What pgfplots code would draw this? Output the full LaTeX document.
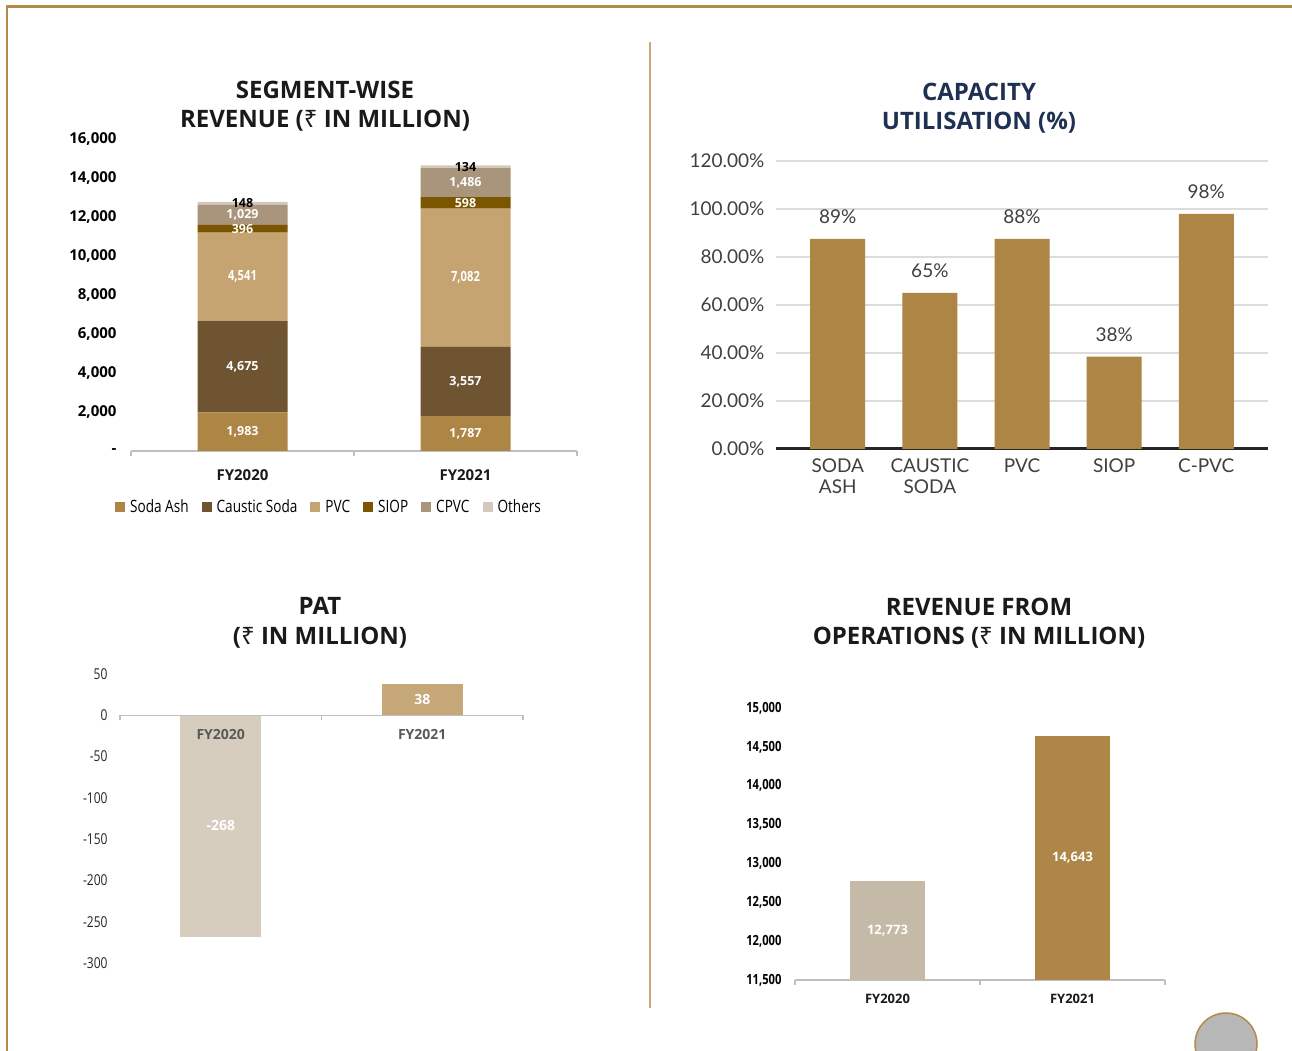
\documentclass[border=0pt]{standalone}
\usepackage{fontspec}
\usepackage{pgfplots}
\pgfplotsset{compat=1.18}
\setmainfont{Open Sans}
\newfontfamily\condfont[FakeStretch=0.8]{Open Sans}
\newfontfamily\rup{Noto Sans}
\newfontfamily\capfont{Lato}
\definecolor{soda}{RGB}{173,134,69}
\definecolor{caustic}{RGB}{111,84,50}
\definecolor{pvc}{RGB}{197,164,114}
\definecolor{siop}{RGB}{123,85,0}
\definecolor{cpvc}{RGB}{168,149,123}
\definecolor{others}{RGB}{211,201,186}
\definecolor{capgold}{RGB}{173,133,68}
\definecolor{patA}{RGB}{214,205,191}
\definecolor{patB}{RGB}{198,168,120}
\definecolor{revA}{RGB}{197,185,167}
\definecolor{revB}{RGB}{174,135,72}
\definecolor{bordergold}{RGB}{179,138,75}
\definecolor{divider}{RGB}{200,170,125}
\definecolor{axisgray}{RGB}{191,191,191}
\definecolor{gridgray}{RGB}{220,220,220}
\definecolor{navy}{RGB}{31,49,82}
\definecolor{titleblack}{RGB}{26,26,26}
\definecolor{circgray}{RGB}{183,183,183}
\pgfplotsset{
  leg/.style={legend image code/.code={\fill[##1] (0pt,-5pt) rectangle (10pt,5pt);}},
}
\begin{document}
\begin{tikzpicture}
\useasboundingbox (0,0) rectangle (1292pt,1051pt);
\fill[white] (0,0) rectangle (1292pt,1051pt);
% decorations
\draw[bordergold, line width=2.5pt] (7.2pt,0pt) -- (7.2pt,1044.5pt) -- (1292pt,1044.5pt);
\draw[divider, line width=1.5pt] (650pt,43pt) -- (650pt,1009pt);
\begin{scope}
\clip (0,0) rectangle (1292pt,1051pt);
\draw[fill=circgray, draw=bordergold, line width=1.5pt] (1226pt,7pt) circle (31pt);
\end{scope}
% titles
\tikzset{ttl/.style={anchor=base, font=\fontsize{24}{29}\selectfont\bfseries, text=titleblack, inner sep=0pt}}
\node[ttl] at (325pt,952pt) {SEGMENT-WISE};
\node[ttl] at (325pt,923pt) {REVENUE ({\rup ₹} IN MILLION)};
\node[ttl, text=navy] at (979pt,950pt) {CAPACITY};
\node[ttl, text=navy] at (979pt,921pt) {UTILISATION (\%)};
\node[ttl] at (320pt,436pt) {PAT};
\node[ttl] at (320pt,406pt) {({\rup ₹} IN MILLION)};
\node[ttl] at (979pt,435pt) {REVENUE FROM};
\node[ttl] at (979pt,406pt) {OPERATIONS ({\rup ₹} IN MILLION)};

% ---------- Panel 1: segment-wise revenue ----------
\begin{axis}[
  at={(131pt,600pt)}, anchor=south west, scale only axis,
  width=446pt, height=312pt,
  ybar stacked, bar width=90pt,
  xmin=-0.5, xmax=1.5, ymin=0, ymax=16000,
  scaled y ticks=false,
  xtick={0,1}, xticklabels={FY2020,FY2021},
  extra x ticks={-0.5,0.5,1.5}, extra x tick labels={},
  extra x tick style={major tick length=5pt, tick align=outside, tick style={draw=axisgray, line width=1.2pt}},
  major tick length=0pt, tick pos=left,
  ytick={0,2000,4000,6000,8000,10000,12000,14000,16000},
  yticklabels={{-},{2,000},{4,000},{6,000},{8,000},{10,000},{12,000},{14,000},{16,000}},
  yticklabel style={font=\fontsize{15}{17}\selectfont\bfseries, text=black, xshift=-11pt},
  xticklabel style={font=\fontsize{15}{17}\selectfont\bfseries, text=titleblack, yshift=-15pt},
  axis x line*=bottom, axis y line*=left,
  y axis line style={draw=none},
  x axis line style={draw=axisgray, line width=1.5pt},
  nodes near coords, point meta=explicit symbolic,
  every node near coord/.append style={anchor=center,
     font=\fontsize{12.5}{14}\selectfont\bfseries, text=white, inner sep=0pt},
  legend style={at={(0.444,-0.18)}, anchor=center, draw=none, legend columns=6,
     font=\fontsize{17}{20}\condfont, inner sep=0pt,
     /tikz/every odd column/.append style={column sep=3pt},
     /tikz/every even column/.append style={column sep=11pt}},
]
\addplot[fill=soda, draw=none, leg] coordinates {(0,1983)[1,983] (1,1787)[1,787]};
\addplot[fill=caustic, draw=none, leg] coordinates {(0,4675)[4,675] (1,3557)[3,557]};
\addplot[fill=pvc, draw=none, leg, every node near coord/.append style={font=\fontsize{14}{16}\condfont\bfseries}] coordinates {(0,4541)[4,541] (1,7082)[7,082]};
\addplot[fill=siop, draw=none, leg] coordinates {(0,396)[396] (1,598)[598]};
\addplot[fill=cpvc, draw=none, leg] coordinates {(0,1029)[1,029] (1,1486)[1,486]};
\addplot[fill=others, draw=none, leg, every node near coord/.append style={text=black}] coordinates {(0,148)[148] (1,134)[134]};
\legend{Soda Ash, Caustic Soda, PVC, SIOP, CPVC, Others}
\end{axis}

% ---------- Panel 2: capacity utilisation ----------
\begin{axis}[
  at={(776pt,602pt)}, anchor=south west, scale only axis,
  width=492pt, height=288pt,
  ybar, bar width=55pt,
  xmin=-0.67, xmax=4.67, ymin=0, ymax=1.2,
  xtick={0,1,2,3,4},
  xticklabels={{SODA\\ASH},{CAUSTIC\\SODA},PVC,SIOP,C-PVC},
  ytick={0,0.2,0.4,0.6,0.8,1.0,1.2},
  yticklabels={0.00\%,20.00\%,40.00\%,60.00\%,80.00\%,100.00\%,120.00\%},
  yticklabel style={font=\fontsize{19}{21}\capfont, text=black!75, xshift=-8pt},
  xticklabel style={font=\fontsize{19}{21}\capfont, text=black!75, align=center, yshift=-6pt},
  major tick length=0pt, tick pos=left,
  ymajorgrids, major grid style={draw=gridgray, line width=2pt},
  axis x line*=bottom, axis y line*=left,
  y axis line style={draw=none},
  x axis line style={draw=black!85, line width=3pt},
  nodes near coords, point meta=explicit symbolic,
  every node near coord/.append style={anchor=base, yshift=15pt, font=\fontsize{19}{21}\capfont, text=black!75},
]
\addplot[fill=capgold, draw=none] coordinates {(0,0.875)[89\%] (1,0.65)[65\%] (2,0.875)[88\%] (3,0.385)[38\%] (4,0.98)[98\%]};
\end{axis}

% ---------- Panel 3: PAT ----------
\begin{axis}[
  at={(120pt,88pt)}, anchor=south west, scale only axis,
  width=403pt, height=289pt,
  ybar, bar width=81pt, axis on top,
  xmin=-0.5, xmax=1.5, ymin=-300, ymax=50,
  xtick={0,1}, xticklabels={FY2020,FY2021},
  extra x ticks={-0.5,0.5,1.5}, extra x tick labels={},
  extra x tick style={major tick length=5pt, tick align=outside, tick style={draw=axisgray, line width=1.2pt}},
  major tick length=0pt,
  ytick={-300,-250,-200,-150,-100,-50,0,50},
  yticklabels={-300,-250,-200,-150,-100,-50,0,50},
  yticklabel style={font=\fontsize{15}{17}\condfont, text=black!85, xshift=-9pt},
  xticklabel style={font=\fontsize{14}{16}\selectfont\bfseries, text=black!65, yshift=-11pt},
  axis x line=middle, axis y line*=left, ytick pos=left,
  every inner x axis line/.append style={-},
  y axis line style={draw=none},
  x axis line style={draw=axisgray, line width=1.5pt, -},
  nodes near coords, point meta=explicit symbolic,
  visualization depends on=rawy \as \rawy,
  every node near coord/.append style={anchor=center, shift={(axis direction cs:0,-\rawy/2)},
     font=\fontsize{14}{16}\selectfont\bfseries, text=white},
]
\addplot[fill=patA, draw=none, bar shift=0pt] coordinates {(0,-268)[-268]};
\addplot[fill=patB, draw=none, bar shift=0pt] coordinates {(1,38)[38]};
\end{axis}

% ---------- Panel 4: revenue from operations ----------
\begin{axis}[
  at={(795pt,71pt)}, anchor=south west, scale only axis,
  width=370pt, height=272pt,
  ybar, bar width=75pt,
  xmin=-0.5, xmax=1.5, ymin=11500, ymax=15000,
  scaled y ticks=false,
  xtick={0,1}, xticklabels={FY2020,FY2021},
  extra x ticks={-0.5,0.5,1.5}, extra x tick labels={},
  extra x tick style={major tick length=5pt, tick align=outside, tick style={draw=axisgray, line width=1.2pt}},
  major tick length=0pt, tick pos=left,
  ytick={11500,12000,12500,13000,13500,14000,14500,15000},
  yticklabels={{11,500},{12,000},{12,500},{13,000},{13,500},{14,000},{14,500},{15,000}},
  yticklabel style={font=\fontsize{14}{16}\condfont\bfseries, text=black, xshift=-10pt},
  xticklabel style={font=\fontsize{13}{15}\selectfont\bfseries, text=titleblack, yshift=-11pt},
  axis x line*=bottom, axis y line*=left,
  y axis line style={draw=none},
  x axis line style={draw=axisgray, line width=1.5pt},
  nodes near coords, point meta=explicit symbolic,
  visualization depends on=rawy \as \rawy,
  every node near coord/.append style={anchor=center, yshift={-(\rawy-11500)*0.038857pt},
     font=\fontsize{13}{15}\selectfont\bfseries, text=white},
]
\addplot[fill=revA, draw=none, bar shift=0pt] coordinates {(0,12773)[12,773]};
\addplot[fill=revB, draw=none, bar shift=0pt] coordinates {(1,14643)[14,643]};
\end{axis}
\end{tikzpicture}
\end{document}
